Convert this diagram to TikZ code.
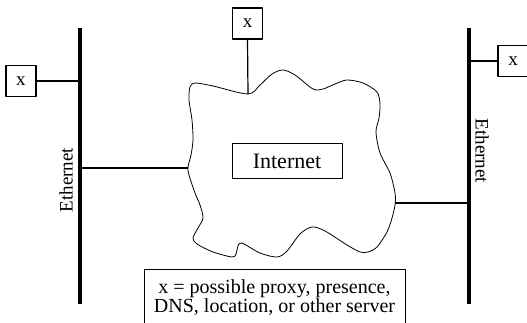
\documentclass[tikz,border=0pt]{standalone}
\usepackage{fontspec}
\setmainfont{Liberation Serif}
\usetikzlibrary{positioning}
\begin{document}
\begin{tikzpicture}[x=1pt, y=-1pt, line cap=butt, line join=round, font=\fontsize{19}{19}\selectfont]
	\tikzset{srvbox/.style={draw, line width=1.1pt, minimum width=30pt, minimum height=31pt, inner sep=0pt},
		bus/.style={line width=4pt},
		link/.style={line width=1.2pt}}
	\useasboundingbox (0,0) rectangle (527,322);
	% ethernet bars
	\coordinate (barLtop) at (80,28); \coordinate (barLbot) at (80,304);
	\coordinate (barRtop) at (469,28); \coordinate (barRbot) at (469,304);
	\draw[bus] (barLtop) -- (barLbot);
	\draw[bus] (barRtop) -- (barRbot);
	\node[rotate=90] (ethL) at (66,180) {Ethernet};
	\node[rotate=-90] (ethR) at (482,151) {Ethernet};
	% cloud
	\draw[line width=0.8pt] plot[smooth cycle, tension=0.5] coordinates {
		(190,87) (195,83) (213,86) (248,94) (260,85) (272,74) (283,70) (295,75) (313,89)
		(323,89) (335,84) (347,80) (363,83) (377,92) (380,104) (379,118) (376,132) (380,153)
		(390,173) (395,193) (395,205) (392,218) (387,232) (377,247) (368,252) (360,252)
		(347,245) (325,231) (312,227) (300,234) (287,251) (277,257) (260,253) (242,243)
		(238,246) (236,254) (232,257) (213,252) (197,244) (193,238) (198,228) (203,218)
		(200,205) (195,193) (189,175) (188,167) (191,155) (193,140) (192,120) (189,100)};
	\coordinate (cloudT) at (248,94);
	\coordinate (cloudL) at (188,168);
	\coordinate (cloudR) at (395,203);
	\node[draw, line width=0.8pt, minimum width=110pt, minimum height=35pt, font=\fontsize{22}{22}\selectfont] (inet) at (287,161) {Internet};
	% servers
	\node[srvbox] (xL) at (21,81) {x};
	\node[srvbox, line width=1.4pt] (xT) at (247.5,23.5) {x};
	\node[srvbox] (xR) at (513,61) {x};
	\draw[link] (xL.east) -- (xL.east -| barLtop);
	\draw[link] (xT.south) -- (cloudT);
	\draw[link] (xR.west) -- (xR.west -| barRtop);
	\draw[link] (cloudL -| barLtop) -- (cloudL);
	\draw[link] (cloudR) -- (cloudR -| barRtop);
	% legend
	\node[draw, line width=0.8pt, anchor=north, minimum width=261pt, inner ysep=10pt, align=center, font=\fontsize{20}{19}\selectfont] (note) at (274.5,269) {x = possible proxy, presence,\\DNS, location, or other server};
\end{tikzpicture}
\end{document}
